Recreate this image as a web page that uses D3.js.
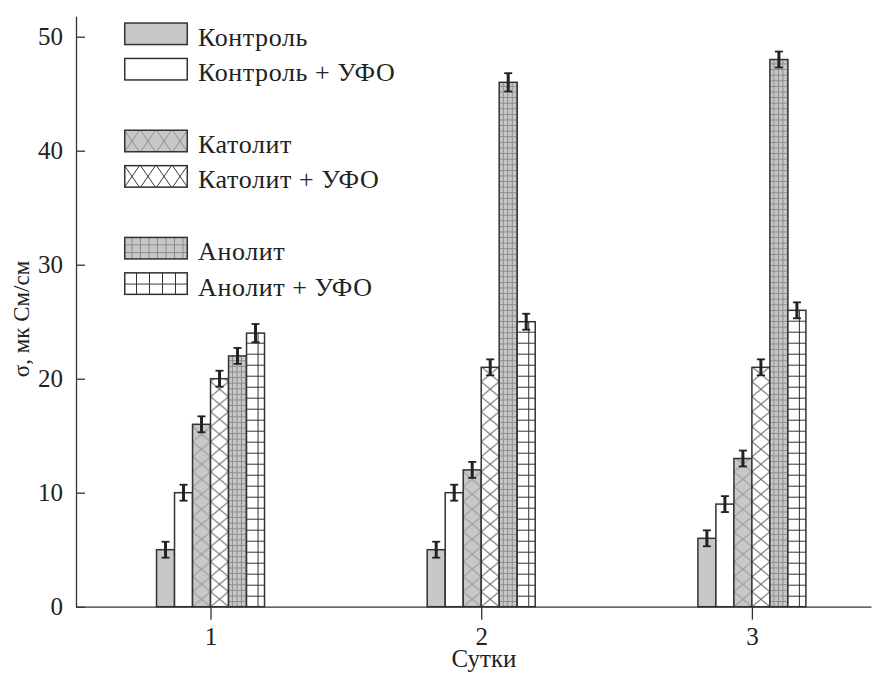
<!DOCTYPE html>
<html>
<head>
<meta charset="utf-8">
<script src="https://cdn.jsdelivr.net/npm/d3@7"></script>
<style>
	html, body { margin:0; font-family:'Liberation Serif', Tinos, 'Times New Roman', serif; }
	svg, svg text { font-family:'Liberation Serif', Tinos, 'Times New Roman', serif; }
</style>
</head>
<body>
<script>
// дни наблюдения
var days = [1, 2, 3];
var series = ["Контроль", "Контроль + УФО", "Католит", "Католит + УФО", "Анолит", "Анолит + УФО"];
// значения (мкСм/см) по дням
var control = [5, 5, 6];
var controlUV = [10, 10, 9];
var katolit = [16, 12, 13];
var katolitUV = [20, 21, 21];
var anolit = [22, 46, 48];
var anolitUV = [24, 25, 26];
// погрешности
var controlErr = [0.7, 0.7, 0.7];
var controlUVErr = [0.7, 0.7, 0.7];
var katolitErr = [0.7, 0.7, 0.7];
var katolitUVErr = [0.7, 0.7, 0.7];
var anolitErr = [0.7, 0.8, 0.7];
var anolitUVErr = [0.8, 0.7, 0.7];
var yTicks = [0, 10, 20, 30, 40, 50];

var values = [control, controlUV, katolit, katolitUV, anolit, anolitUV];
var errors = [controlErr, controlUVErr, katolitErr, katolitUVErr, anolitErr, anolitUVErr];

var width = 872, height = 674;
var barW = 18;

var svg = d3.select('body').append('svg')
	.attr('width', width).attr('height', height);
var defs = svg.append('defs');

function label(sel, size){
	return sel.style('font-size', size + 'px').attr('fill', '#222');
}

// узоры заливки
function pattern(id, kind, w, h){
	var p = defs.append('pattern').attr('id', id)
		.attr('patternUnits', 'userSpaceOnUse')
		.attr('width', w).attr('height', h);
	var gray = kind.indexOf('gray') >= 0;
	p.append('rect').attr('width', w).attr('height', h)
		.attr('fill', gray ? '#c8c8c8' : '#fff');
	var col = gray ? '#8a8a8a' : '#333';
	if(kind.indexOf('cross') >= 0){
		p.append('path').attr('d', 'M0,0L'+w+','+h+'M'+w+',0L0,'+h)
			.attr('stroke', col).attr('stroke-width', 1).attr('fill', 'none');
	}
	if(kind.indexOf('grid') >= 0){
		p.append('path').attr('d', 'M0,0.5H'+w+'M'+(w-0.5)+',0V'+h)
			.attr('stroke', col).attr('stroke-width', 1).attr('fill', 'none');
	}
	return 'url(#'+id+')';
}

var fillsBar = [
	'#c8c8c8', '#fff',
	pattern('kat', 'gray cross', 18, 15),
	pattern('katuv', 'white cross', 18, 15),
	pattern('an', 'gray grid', 4.5, 5.6),
	pattern('anuv', 'white grid', 12, 11)
];
var fillsLeg = [
	'#c8c8c8', '#fff',
	pattern('katL', 'gray cross', 16, 23),
	pattern('katuvL', 'white cross', 16, 23),
	pattern('anL', 'gray grid', 8.5, 7.7),
	pattern('anuvL', 'white grid', 13, 11.5)
];

var x = d3.scaleLinear().domain([0.503, 3.44]).range([76, 871]);
var y = d3.scaleLinear().domain([0, 51.8]).range([606.7, 16.2]);
var inner = d3.scaleBand().domain(d3.range(series.length)).range([-3*barW, 3*barW]);

// оси
var xAxis = svg.append('g')
	.attr('transform', 'translate(0,'+y(0)+')')
	.call(d3.axisBottom(x).tickValues(days).tickSize(13).tickSizeOuter(0).tickPadding(8).tickFormat(d3.format('d')));
var yAxis = svg.append('g')
	.attr('transform', 'translate('+x.range()[0]+',0)')
	.call(d3.axisLeft(y).tickValues(yTicks).tickSize(-9).tickSizeOuter(0).tickPadding(13));
[xAxis, yAxis].forEach(function(a){
	a.attr('font-family', null).attr('font-size', null);
	a.selectAll('path, line').attr('stroke', '#333').attr('stroke-width', 1.3);
	label(a.selectAll('text'), 25);
});

label(svg.append('text'), 25).attr('x', 484).attr('y', 667)
	.attr('text-anchor', 'middle')
	.text('Сутки');
label(svg.append('text'), 23).attr('transform', 'translate(29,319) rotate(-90)')
	.attr('text-anchor', 'middle')
	.text('σ, мк См/см');

// столбцы
var bars = svg.append('g');
series.forEach(function(s, i){
	days.forEach(function(d, j){
		var v = values[i][j];
		var g = bars.append('g')
			.attr('transform', 'translate('+(x(d)+inner(i))+','+y(0)+')');
		g.append('rect')
			.attr('x', 0).attr('y', y(v)-y(0))
			.attr('width', barW).attr('height', y(0)-y(v))
			.attr('fill', fillsBar[i])
			.attr('stroke', '#333').attr('stroke-width', 1.5);
	});
});

// погрешности
var errs = svg.append('g').attr('stroke', '#222');
series.forEach(function(s, i){
	days.forEach(function(d, j){
		var cx = x(d)+inner(i)+barW/2;
		var v = values[i][j], e = errors[i][j];
		errs.append('line').attr('x1', cx).attr('x2', cx)
			.attr('y1', y(v+e)).attr('y2', y(v-e)).attr('stroke-width', 3);
		[v+e, v-e].forEach(function(t){
			errs.append('line').attr('x1', cx-4).attr('x2', cx+4)
				.attr('y1', y(t)).attr('y2', y(t)).attr('stroke-width', 1.8);
		});
	});
});

// легенда
var legend = svg.append('g');
series.forEach(function(s, i){
	var top = 22.3 + Math.floor(i/2)*107.2 + (i%2)*35.4;
	var g = legend.append('g').attr('transform', 'translate(124,'+top+')');
	g.append('rect').attr('x', 0.75).attr('y', 0.75).attr('width', 62.5).attr('height', 21.5)
		.attr('fill', fillsLeg[i]).attr('stroke', '#333').attr('stroke-width', 1.5);
	label(g.append('text'), 26).attr('x', 74).attr('y', 23.5)
		.style('letter-spacing', '0.6px')
		.text(s);
});
</script>
</body>
</html>
